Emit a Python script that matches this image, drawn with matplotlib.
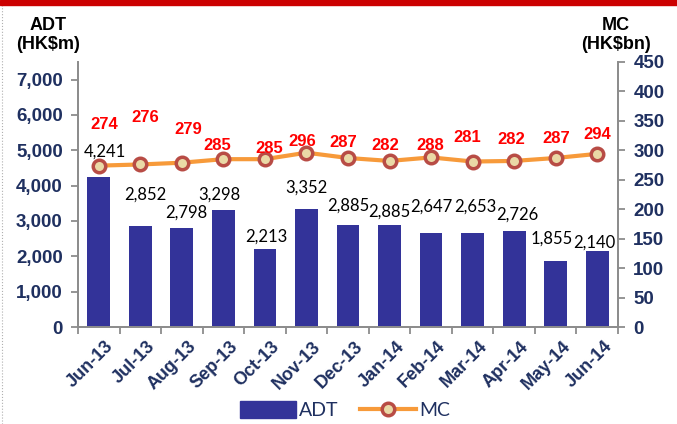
import matplotlib
matplotlib.use("Agg")
import matplotlib.pyplot as plt
import matplotlib.transforms as mtransforms
from matplotlib.patches import Rectangle
from matplotlib.lines import Line2D
import numpy as np

months = ["Jun-13", "Jul-13", "Aug-13", "Sep-13", "Oct-13", "Nov-13", "Dec-13",
          "Jan-14", "Feb-14", "Mar-14", "Apr-14", "May-14", "Jun-14"]
adt = [4241, 2852, 2798, 3298, 2213, 3352, 2885, 2885, 2647, 2653, 2726, 1855, 2140]
mc = [274, 276, 279, 285, 285, 296, 287, 282, 288, 281, 282, 287, 294]

# label placement (pixels, relative to bar top / marker), mimics the Excel layout
adt_off = [(6, 26), (5, 32), (4, 16), (-4, 16), (1, 12), (0, 21), (0, 19),
           (0, 13), (0, 27), (3, 27), (3, 16), (-4, 23), (-3, 9)]
mc_off = [(5, 41), (4.5, 47), (6.5, 33), (-6, 14), (4, 11), (-4, 11), (-4.5, 15),
          (-4, 15), (-1, 12), (-5, 24), (-3, 21), (1, 19), (0, 19)]

navy = "#1F3060"
bar_c = "#333399"
px = 0.72  # points per pixel at dpi 100

fig = plt.figure(figsize=(6.77, 4.24), dpi=100)
ax = fig.add_axes([78/677, 1-327/424, (618-78)/677, (327-62)/424])
ax2 = ax.twinx()

x = np.arange(len(months))
ax.bar(x, adt, width=0.55, color=bar_c, zorder=2)
ax.set_xlim(-0.5, len(months)-0.5)
ax.set_ylim(0, 7500)
ax.set_yticks(range(0, 7001, 1000))
ax.set_yticklabels([f"{v:,}" for v in range(0, 7001, 1000)])

ax2.plot(x, mc, color="#F79A3A", lw=3, marker="o", ms=9, mfc="#EAD9A6",
         mec="#B84C45", mew=2.5, zorder=3)
ax2.set_ylim(0, 450)
ax2.set_yticks(range(0, 451, 50))

for i, v in enumerate(adt):
    dx, dy = adt_off[i]
    ax.annotate(f"{v:,}", (x[i], v), xytext=(dx*px, dy*px), textcoords="offset points",
                ha="center", va="center", fontsize=12, color="black", family="Lato")
for i, v in enumerate(mc):
    dx, dy = mc_off[i]
    ax2.annotate(str(v), (x[i], v), xytext=(dx*px, dy*px), textcoords="offset points",
                 ha="center", va="center", fontsize=12, color="#FF0000",
                 fontweight="bold", family="Liberation Sans")

for a in (ax, ax2):
    a.spines["top"].set_visible(False)
    for s in ("left", "right", "bottom"):
        a.spines[s].set_color("#8C8C8C")
        a.spines[s].set_linewidth(1.3)
    a.tick_params(axis="y", colors="#8C8C8C", length=5, width=1.3, labelsize=13.5,
                  labelcolor=navy, pad=6)
    for t in a.get_yticklabels():
        t.set_fontweight("bold")
        t.set_family("Liberation Sans")

ax.set_xticks(x)
ax.set_xticklabels(months, rotation=45, ha="right", rotation_mode="anchor",
                   fontsize=13, fontweight="bold", color=navy, family="Liberation Sans")
ax.set_xticks(np.arange(-0.5, len(months), 1), minor=True)
ax.tick_params(axis="x", which="major", length=0, pad=8)
ax.tick_params(axis="x", which="minor", length=5, width=1.3, color="#8C8C8C")
shift = mtransforms.ScaledTranslation(6/100, 0, fig.dpi_scale_trans)
for t in ax.get_xticklabels():
    t.set_transform(t.get_transform() + shift)

fig.text(48/677, 1-35/424, "ADT\n(HK$m)", ha="center", va="center", fontsize=13,
         fontweight="bold", family="Liberation Sans", linespacing=1.2)
fig.text(616/677, 1-35/424, "MC\n(HK$bn)", ha="center", va="center", fontsize=13,
         fontweight="bold", family="Liberation Sans", linespacing=1.2)

handles = [Rectangle((0, 0), 1, 1, color=bar_c),
           Line2D([], [], color="#F79A3A", lw=3, marker="o", ms=9, mfc="#EAD9A6",
                  mec="#B84C45", mew=2.5)]
leg = fig.legend(handles, ["ADT", "MC"], loc="center", bbox_to_anchor=(345/677, 1-410/424),
                 ncol=2, frameon=False, handlelength=2.9, handleheight=1.0,
                 columnspacing=1.1, handletextpad=0.15, prop={"family": "Lato", "size": 14})
for t in leg.get_texts():
    t.set_color(navy)

fig.patches.append(Rectangle((0, 1-5/424), 1, 5/424, transform=fig.transFigure,
                             color="#CC0000", zorder=5))
fig.add_artist(Line2D([2/677, 2/677], [0, 1-5/424], transform=fig.transFigure,
                      color="#B0B0B0", lw=0.8, ls=":"))

fig.savefig("out.png", dpi=100)
